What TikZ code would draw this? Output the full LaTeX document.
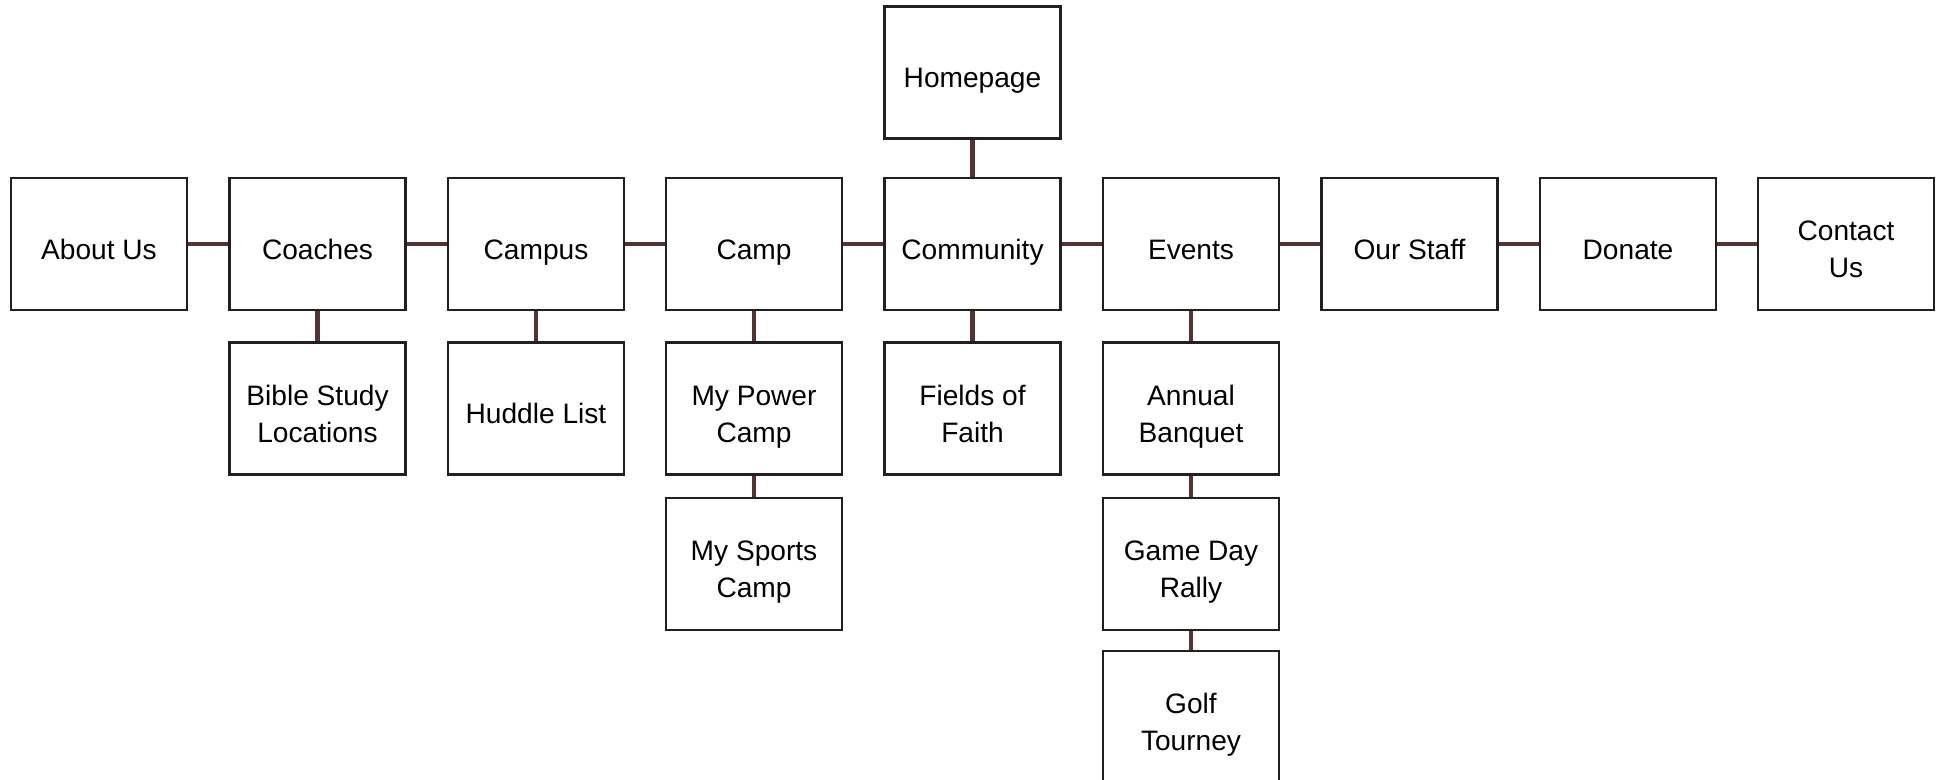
\documentclass[tikz,border=0pt]{standalone}
\usepackage{fontspec}
\setmainfont{Liberation Sans}
\definecolor{boxline}{HTML}{231F20}
\definecolor{linkline}{HTML}{553334}
\newcommand{\pg}[1]{\raisebox{-0.16cm}[\height][\depth]{\begin{tabular}{@{}c@{}}#1\end{tabular}}}
\tikzset{
  page/.style={draw=boxline, line width=1.6pt, fill=white, minimum width=3.52cm,
    minimum height=2.64cm, font=\fontsize{16}{21}\selectfont, inner sep=2pt},
  link/.style={draw=linkline, line width=2.8pt}
}
\begin{document}
\begin{tikzpicture}
\useasboundingbox (0,0) rectangle (38.8,-15.6);

% top level
\node [page] (home) at (19.45,-1.45) {\pg{Homepage}};

% main menu
\node [page] (about) at (1.98,-4.88) {\pg{About Us}};
\node [page] (coaches) at (6.35,-4.88) {\pg{Coaches}};
\node [page] (campus) at (10.72,-4.88) {\pg{Campus}};
\node [page] (camp) at (15.08,-4.88) {\pg{Camp}};
\node [page] (community) at (19.45,-4.88) {\pg{Community}};
\node [page] (events) at (23.82,-4.88) {\pg{Events}};
\node [page] (staff) at (28.19,-4.88) {\pg{Our Staff}};
\node [page] (donate) at (32.56,-4.88) {\pg{Donate}};
\node [page] (contact) at (36.92,-4.88) {\pg{Contact\\Us}};

% sub pages
\node [page] (bible) at (6.35,-8.17) {\pg{Bible Study\\Locations}};
\node [page] (huddle) at (10.72,-8.17) {\pg{Huddle List}};
\node [page] (power) at (15.08,-8.17) {\pg{My Power\\Camp}};
\node [page] (fields) at (19.45,-8.17) {\pg{Fields of\\Faith}};
\node [page] (banquet) at (23.82,-8.17) {\pg{Annual\\Banquet}};
\node [page] (sports) at (15.08,-11.28) {\pg{My Sports\\Camp}};
\node [page] (rally) at (23.82,-11.28) {\pg{Game Day\\Rally}};
\node [page] (golf) at (23.82,-14.34) {\pg{Golf\\Tourney}};

\draw [link] (home) -- (community);
\draw [link] (about) -- (coaches);
\draw [link] (coaches) -- (campus);
\draw [link] (campus) -- (camp);
\draw [link] (camp) -- (community);
\draw [link] (community) -- (events);
\draw [link] (events) -- (staff);
\draw [link] (staff) -- (donate);
\draw [link] (donate) -- (contact);
\draw [link] (coaches) -- (bible);
\draw [link] (campus) -- (huddle);
\draw [link] (camp) -- (power);
\draw [link] (power) -- (sports);
\draw [link] (community) -- (fields);
\draw [link] (events) -- (banquet);
\draw [link] (banquet) -- (rally);
\draw [link] (rally) -- (golf);
\end{tikzpicture}
\end{document}
